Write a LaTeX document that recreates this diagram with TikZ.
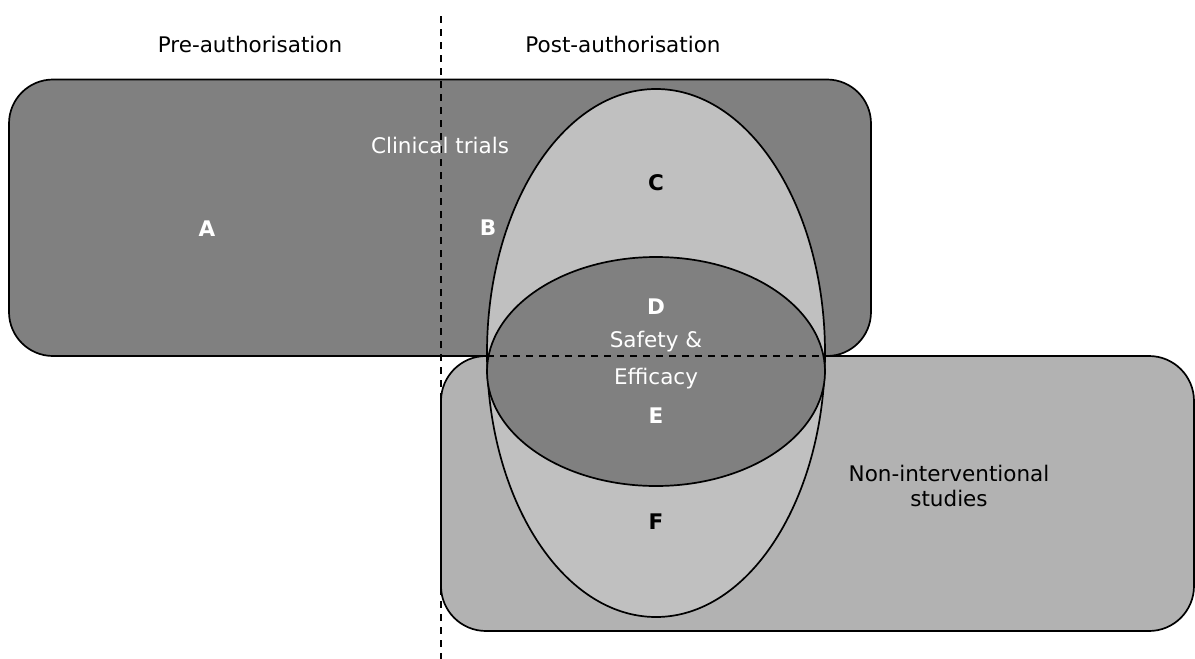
\documentclass[tikz,border=0pt]{standalone}
\usepackage{fontspec}
\setmainfont{DejaVu Sans}
\definecolor{darkgrey}{HTML}{808080}
\definecolor{midgrey}{HTML}{B2B2B2}
\definecolor{lightgrey}{HTML}{C0C0C0}
\begin{document}
\begin{tikzpicture}[x=1pt,y=-1pt,
  outline/.style={draw=black,line width=1.7pt},
  divider/.style={draw=black,line width=1.5pt,dash pattern=on 7pt off 6pt},
  lbl/.style={font=\fontsize{21.5}{26}\selectfont,anchor=base,inner sep=0pt},
  whitelbl/.style={lbl,text=white},
  letter/.style={lbl,font=\fontsize{21.5}{26}\selectfont\bfseries},
  whiteletter/.style={letter,text=white}]
\useasboundingbox (0,0) rectangle (1195,659);
% bottom rectangle: non-interventional studies
\draw[outline,fill=midgrey,rounded corners=45pt] (441,356) rectangle (1194,631);
% top rectangle: clinical trials
\draw[outline,fill=darkgrey,rounded corners=44pt] (9,79.5) rectangle (871,356);
% tall ellipse
\draw[outline,fill=lightgrey] (656,353) ellipse [x radius=169, y radius=264];
% safety & efficacy ellipse
\draw[outline,fill=darkgrey] (656,371.5) ellipse [x radius=169, y radius=114.5];
% dividers
\coordinate (vtop) at (441,16);
\coordinate (vbot) at (441,659);
\coordinate (hl) at (487,356);
\coordinate (hr) at (825,356);
\draw[divider] (vtop) -- (vbot);
\draw[divider] (hl) -- (hr);
% labels
\node[lbl] (pre) at (250,52) {Pre-authorisation};
\node[lbl] (post) at (623,52) {Post-authorisation};
\node[whitelbl] (ct) at (440,153) {Clinical trials};
\node[whiteletter] (A) at (207,236) {A};
\node[whiteletter] (B) at (488,235.5) {B};
\node[letter] (C) at (656,190.5) {C};
\node[whiteletter] (D) at (656,314) {D};
\node[whitelbl] (se1) at (656,347.5) {Safety \&};
\node[whitelbl] (se2) at (656,384.5) {Efficacy};
\node[whiteletter] (E) at (656,423) {E};
\node[letter] (F) at (656,529) {F};
\node[lbl] (ni1) at (949,481) {Non-interventional};
\node[lbl] (ni2) at (949,506.5) {studies};
\end{tikzpicture}
\end{document}
